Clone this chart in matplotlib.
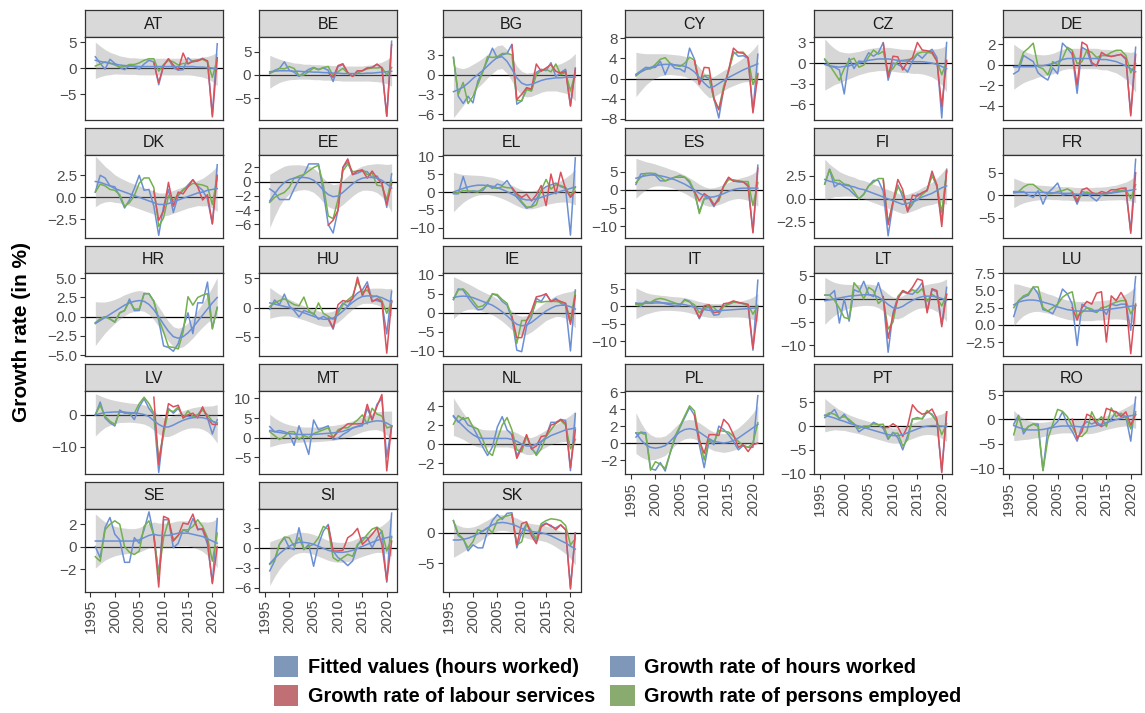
#!/usr/bin/env python
"""
Small multiples of employment growth rates per EU country, 1996-2021
"""

import matplotlib
matplotlib.use("Agg")
import matplotlib.pyplot as plt
from matplotlib.patches import Patch

plt.rcParams['font.family'] = ['Liberation Sans', 'DejaVu Sans']

# years of the series
YEARS = list(range(1996, 2022))
LS_YEARS = list(range(2008, 2022))

COUNTRIES = ["AT", "BE", "BG", "CY", "CZ", "DE",
             "DK", "EE", "EL", "ES", "FI", "FR",
             "HR", "HU", "IE", "IT", "LT", "LU",
             "LV", "MT", "NL", "PL", "PT", "RO",
             "SE", "SI", "SK"]

# growth rate of hours worked
HOURS = {
    "AT": [2.2, 0.9, -0.2, 1.7, 0.9, 0.1, -0.3, 0.5, 0.3, -0.2, 0.8, 1.5, 1.2, -3.2, 0.5, 1.8, 0.1, -0.4, -0.3, 2.0, 1.2, 1.4, 1.9, 1.3, -9.0, 4.7],
    "BE": [0.3, 1.0, 1.4, 2.8, 1.0, 0.6, -0.3, 0.5, 1.2, 1.6, 1.2, 1.5, 1.0, -1.4, 1.8, 2.2, 0.5, -0.3, 0.9, 0.9, 1.5, 1.6, 2.3, 1.5, -8.8, 7.2],
    "BG": [2.6, -3.3, -4.4, -3.3, -4.3, -1.0, 0.5, 2.2, 4.0, 2.5, 3.0, 3.2, 4.6, -4.5, -4.0, -2.0, -2.4, 0.3, 0.8, 0.6, 1.8, -0.3, 0.3, 0.8, -4.7, 1.0],
    "CY": [0.8, 1.5, 2.2, 2.1, 2.2, 3.4, 0.8, 3.0, 2.0, 1.9, 1.3, 6.0, 3.8, -1.0, 0.5, 0.0, -4.0, -7.8, -2.0, 1.5, 5.3, 4.4, 4.5, 4.0, -6.5, 4.8],
    "CZ": [0.5, -0.5, -0.6, -1.0, -4.5, 0.7, -0.8, 0.3, 0.2, 1.5, 1.0, 1.5, 3.0, -2.5, 0.0, -0.2, -0.6, -1.3, 0.3, 1.3, 0.7, 1.5, 2.0, 0.8, -8.0, 3.0],
    "DE": [-0.9, -0.6, 0.9, 0.6, 0.3, -0.8, -1.2, -1.5, -0.3, -0.9, 2.1, 1.6, 1.0, -2.8, 1.7, 1.4, 0.0, -0.1, 0.9, 0.9, 0.8, 0.9, 1.0, 0.5, -4.8, 1.7],
    "DK": [0.6, 2.5, 2.2, 1.3, 1.2, 0.1, -1.2, -0.3, 1.0, 2.5, 0.8, 0.9, -1.0, -4.3, -1.0, 0.9, -1.7, 0.2, 0.8, 1.4, 2.0, 1.3, 0.8, -0.2, -3.0, 3.7],
    "EE": [-1.0, -1.5, -2.5, -2.5, -2.5, -1.0, 0.3, 1.0, 2.5, 2.5, 2.5, -1.5, -6.0, -7.2, -4.0, 2.0, 2.8, 1.0, 1.2, 1.5, 1.4, 0.6, 0.8, -0.3, -3.6, 1.1],
    "EL": [-0.5, -0.5, 4.3, 0.0, 0.3, 0.2, 0.4, 2.0, 1.0, 2.2, 1.8, 3.2, 1.0, -1.5, -3.0, -4.5, -4.0, -2.0, 0.5, 1.5, 2.0, 2.5, 1.5, 1.0, -12.0, 9.5],
    "ES": [1.5, 4.4, 4.5, 4.5, 4.0, 2.5, 2.5, 3.0, 3.5, 3.5, 3.5, 2.0, -0.8, -6.0, -2.5, -2.3, -4.6, -2.0, 1.0, 3.3, 2.5, 2.2, 2.2, 1.5, -11.5, 6.8],
    "FI": [1.6, 3.2, 1.3, 1.7, 1.3, 1.0, 0.5, 0.0, 0.5, 1.4, 2.0, 2.0, 0.8, -4.0, -0.5, 1.5, 0.2, -1.3, -0.6, 0.5, 0.5, 1.0, 2.6, 1.3, -2.5, 3.2],
    "FR": [0.8, 0.8, 0.8, 0.0, -0.5, 1.0, -2.0, 0.5, 1.5, 2.7, 0.0, 0.3, 0.5, -2.0, 0.8, 0.5, -0.5, -1.3, 0.0, 0.3, 0.5, 0.8, 1.0, 1.0, -8.0, 8.0],
    "HR": [-0.8, -0.3, 0.0, -0.3, -0.7, 0.5, 0.8, 2.3, 0.8, 0.8, 3.0, 3.0, 2.0, -0.5, -3.8, -4.0, -4.5, -3.5, -1.5, 0.5, -2.2, 1.8, 1.8, 4.5, -1.6, 1.2],
    "HU": [-0.3, 1.3, 0.5, 2.3, 0.3, -0.5, -1.6, -0.5, -0.8, -1.0, -2.0, -1.5, -2.0, -3.7, -0.5, 0.8, 0.2, 1.6, 2.5, 3.0, 4.4, 1.2, 1.2, 0.9, -4.5, 2.8],
    "IE": [3.5, 6.3, 6.0, 4.0, 2.3, 0.8, 1.0, 2.5, 5.0, 4.5, 3.0, 2.0, -1.5, -9.8, -10.2, -3.5, -1.2, 3.8, 3.0, 5.0, 3.0, 3.8, 2.5, 2.0, -10.0, 6.0],
    "IT": [1.0, 0.0, 1.5, 1.0, 1.5, 1.2, 0.8, 0.5, 0.2, 0.2, 2.0, 1.5, -0.5, -3.5, -0.5, -0.3, -2.5, -2.3, 0.2, 0.6, 1.2, 1.1, 0.8, 0.2, -12.5, 7.5],
    "LT": [0.8, 0.8, 1.8, -5.2, 0.0, -4.8, 2.0, 1.5, 3.8, 1.0, 0.5, 3.5, 0.0, -11.5, -3.0, 0.5, 1.5, 1.2, 1.0, 2.0, 3.5, -2.5, 2.0, 1.5, -5.5, 2.5],
    "LU": [1.2, 3.5, 4.0, 4.3, 5.5, 4.5, 2.2, 2.0, 1.6, 3.0, 5.2, 4.5, 3.0, -3.0, 3.0, 2.5, 2.0, 1.8, 2.5, 1.5, 3.0, 2.8, 3.0, 3.0, -0.8, 7.0],
    "LV": [0.0, 4.0, -1.0, -2.5, -3.5, 1.5, 0.5, 0.5, -1.5, 2.5, 5.0, 2.0, 0.0, -18.0, -5.0, 2.0, 0.5, 2.0, -0.5, -0.5, -0.8, 0.0, 2.0, -1.0, -6.0, -1.5],
    "MT": [2.8, 1.5, 1.8, 1.5, 1.0, -2.0, 3.0, -0.5, -4.3, 4.5, 2.0, 2.5, 3.0, -0.5, -0.2, 0.8, 1.5, 2.5, 2.8, 3.0, 7.5, 4.5, 8.5, 10.0, -5.0, 3.0],
    "NL": [3.0, 2.3, 2.8, 2.0, 1.8, 0.8, -0.3, -1.2, -0.3, 1.8, 2.9, 1.5, 1.0, -1.2, -0.3, 0.9, -0.5, -1.0, 0.2, 0.8, 2.3, 2.3, 2.6, 2.5, -2.8, 3.2],
    "PL": [0.7, 1.3, 1.2, -3.0, -3.2, -2.3, -3.3, -1.2, 0.5, 1.8, 3.0, 4.2, 3.3, -0.2, -2.9, 0.3, -0.2, 2.0, 1.6, 1.0, 0.2, -0.8, -0.3, -0.5, -0.5, 5.6],
    "PT": [1.8, 2.5, 3.5, 1.5, 2.5, 1.0, 0.5, -1.2, -0.5, -0.3, 0.8, 0.3, -0.5, -2.8, -1.3, -2.5, -5.0, -2.0, 1.5, 1.8, 1.5, 3.0, 2.5, 1.0, -9.5, 3.0],
    "RO": [-1.0, 0.8, -3.0, -1.5, -1.0, -1.0, -10.5, -2.0, -1.5, -0.5, 1.5, -1.0, -2.5, -4.5, -1.5, -0.5, -1.0, -0.5, -1.5, -1.0, 0.0, 1.5, 0.8, 0.5, -4.5, 4.5],
    "SE": [0.0, -1.0, 1.7, 2.6, 1.1, 0.6, -1.4, -1.4, 0.8, 0.3, 1.5, 3.1, 1.0, -2.5, 2.4, 2.4, -0.1, 0.3, 1.5, 1.3, 2.5, 1.6, 1.5, 0.2, -3.2, 2.5],
    "SI": [-3.5, -2.0, 0.5, 1.5, 0.0, -0.3, 3.0, -0.3, 0.5, -2.8, 0.5, 2.5, 3.5, -0.5, -1.5, -2.0, -2.7, -2.0, 0.3, 1.5, 1.5, 0.0, 1.5, 2.5, -5.2, 5.2],
    "SK": [2.0, -0.5, -1.0, -3.0, -2.0, -2.5, -2.5, 0.3, 2.0, 3.0, 2.2, 3.2, 3.3, -2.5, 0.0, 1.5, 0.0, -1.5, 1.2, 1.6, 1.0, 0.8, 1.3, 0.5, -9.0, 0.0],
}

# growth rate of persons employed
PERSONS = {
    "AT": [0.4, 0.8, 1.2, 1.0, 0.6, 0.2, 0.3, 0.7, 0.7, 1.0, 1.5, 1.8, 1.8, -0.6, 0.7, 1.5, 1.2, 0.6, 0.9, 0.9, 1.4, 1.6, 1.7, 1.2, -1.8, 1.8],
    "BE": [0.4, 0.8, 1.4, 1.3, 1.8, 1.4, -0.1, 0.0, 0.7, 1.5, 1.1, 1.6, 1.8, -0.2, 0.7, 1.4, 0.4, -0.3, 0.4, 0.9, 1.3, 1.5, 1.5, 1.6, 0.0, 1.6],
    "BG": [2.6, -3.0, -1.2, -4.4, -3.3, -1.5, 0.3, 2.7, 2.6, 2.7, 3.2, 3.2, 3.0, -3.9, -4.0, -2.3, -2.5, 0.0, 0.6, 0.8, 0.4, 1.6, 0.0, 0.3, -2.5, 0.3],
    "CY": [0.5, 1.3, 1.8, 1.9, 2.8, 3.8, 4.1, 3.0, 2.6, 2.4, 3.0, 4.2, 3.6, -0.5, 0.6, 0.6, -4.2, -6.0, -1.5, 1.4, 4.9, 5.2, 5.2, 4.0, -1.2, 1.0],
    "CZ": [0.6, -0.3, -1.4, -2.5, -0.8, 0.4, 0.7, -0.6, -0.3, 0.9, 1.9, 1.3, 1.7, -1.3, -0.8, 0.3, 0.4, 0.5, 0.6, 1.4, 1.6, 1.6, 1.4, 0.3, -1.7, 0.2],
    "DE": [-0.2, -0.2, 1.2, 1.6, 2.1, -0.2, -0.4, -1.0, 0.3, 0.0, 0.6, 1.7, 1.4, 0.1, 0.3, 1.4, 1.2, 0.7, 0.9, 0.9, 1.2, 1.4, 1.4, 0.9, -0.8, 0.1],
    "DK": [0.6, 1.5, 1.3, 0.9, 0.8, 0.3, -1.0, -0.6, 0.2, 1.6, 2.2, 2.2, 1.1, -3.3, -2.3, 0.2, -0.3, 0.3, 0.9, 1.2, 1.6, 1.5, 1.4, 1.2, -0.8, 2.3],
    "EE": [-2.9, -2.2, -1.8, -1.5, -0.8, 0.5, 0.8, 1.0, 1.5, 2.0, 2.3, -0.5, -4.8, -5.2, -2.5, 1.5, 2.5, 1.4, 1.5, 1.7, 1.0, 1.2, -0.5, -0.6, -2.5, 0.2],
    "EL": [-0.3, -0.2, 0.4, 0.3, 0.2, 0.0, 1.0, 1.8, 1.2, 1.0, 1.5, 1.2, 1.1, -0.5, -2.7, -4.2, -4.2, -3.5, 0.5, 3.5, 0.8, 2.0, 1.8, 1.3, -1.2, 1.4],
    "ES": [2.0, 3.5, 4.5, 4.6, 4.5, 3.5, 2.5, 3.0, 3.5, 4.0, 3.5, 2.5, -0.3, -6.5, -2.3, -1.8, -4.0, -3.0, 1.0, 2.8, 2.8, 2.5, 2.3, 2.3, -4.3, 2.0],
    "FI": [1.6, 3.2, 2.0, 2.0, 1.6, 1.5, 0.8, 0.0, 0.5, 1.4, 1.8, 2.2, 2.2, -2.6, -0.4, 1.3, 0.6, -1.2, -0.4, -0.1, 0.5, 0.9, 2.5, 1.5, -1.5, 3.0],
    "FR": [0.6, 0.8, 1.8, 2.4, 2.4, 1.5, 0.7, 0.3, 0.4, 0.8, 1.0, 1.4, 0.8, -1.0, 0.1, 0.7, 0.3, 0.4, 0.3, 0.3, 0.6, 0.9, 1.0, 1.2, -0.8, 2.3],
    "HR": [-0.8, -0.3, 0.0, -0.3, -0.7, 0.5, 0.8, 2.0, 1.0, 1.0, 3.0, 3.0, 2.0, -0.3, -2.0, -3.9, -4.0, -4.2, -2.0, 2.6, 1.5, 2.5, 2.8, 3.0, -1.5, 1.2],
    "HU": [0.2, 0.8, 1.2, 1.5, 1.0, 0.5, 0.3, 1.8, -0.5, -1.2, 0.8, -1.0, -1.5, -2.0, -1.0, 0.5, 1.3, 2.0, 4.5, 2.6, 3.0, 1.8, 2.0, 1.2, -1.0, 1.0],
    "IE": [3.5, 6.0, 6.3, 5.0, 3.2, 1.5, 1.8, 3.0, 5.0, 4.8, 3.5, 2.5, -1.0, -8.0, -2.0, -2.0, -0.5, 3.0, 2.8, 3.0, 3.0, 3.0, 2.8, 2.5, -2.0, 5.5],
    "IT": [0.5, 0.5, 1.0, 1.2, 2.0, 2.3, 2.0, 1.5, 1.0, 0.5, 1.8, 1.3, 0.5, -1.8, -0.6, 0.2, -0.3, -1.8, 0.0, 0.7, 1.3, 1.2, 0.8, 0.5, -2.2, 0.3],
    "LT": [0.8, 0.8, -0.3, -2.0, -4.0, -4.3, 3.5, 2.2, 0.0, 2.5, 1.8, -1.0, 0.0, -6.5, -5.0, 0.5, 1.8, 1.3, 2.0, 1.3, 2.2, -0.5, 1.0, 0.3, -1.5, 1.0],
    "LU": [2.5, 3.5, 4.2, 4.5, 5.5, 5.5, 2.5, 2.0, 2.5, 3.0, 4.0, 4.5, 4.8, 1.2, 1.8, 2.5, 2.3, 1.8, 2.5, 2.6, 3.0, 3.3, 3.5, 3.5, 1.6, 2.8],
    "LV": [0.0, 3.0, -0.5, -2.0, -3.0, 1.0, 0.8, 0.3, 0.5, 3.5, 5.5, 3.5, 0.5, -14.0, -6.0, 1.5, 1.0, 2.5, -1.0, 1.2, -0.5, 0.0, 1.5, 0.0, -2.0, -2.5],
    "MT": [1.5, 0.5, -0.5, 0.3, 1.5, 1.5, -0.5, 0.5, 0.0, 1.0, 1.5, 2.0, 2.5, 0.0, 2.0, 2.5, 2.5, 3.5, 4.5, 5.8, 3.5, 7.5, 6.0, 5.5, 2.5, 2.8],
    "NL": [2.1, 3.0, 2.6, 2.8, 1.8, 1.6, 0.5, -0.8, -1.2, 0.5, 2.0, 2.8, 1.5, -0.6, -0.8, 0.8, -0.3, -1.2, -0.5, 0.8, 1.5, 2.2, 2.5, 2.0, -0.5, 0.5],
    "PL": [1.2, 1.2, 1.0, -3.2, -2.2, -2.5, -3.0, -1.2, 0.8, 2.0, 3.2, 4.4, 3.8, 0.5, -2.0, 0.5, 0.1, 1.5, 1.4, 1.3, 0.8, 0.2, -0.3, -0.5, 0.0, 2.4],
    "PT": [2.2, 2.8, 2.5, 1.7, 2.0, 1.4, 0.5, -0.5, 0.0, 0.0, 0.5, 0.3, 0.4, -2.5, -1.5, -1.5, -4.2, -2.8, 1.5, 1.5, 1.6, 3.3, 2.3, 1.0, -1.8, 0.5],
    "RO": [-3.2, 0.5, -2.5, -1.5, -1.0, -1.5, -10.5, -4.0, -1.0, 2.0, 1.6, 0.5, -1.5, -3.5, -3.5, -2.5, 1.5, -0.5, 0.5, -1.5, 2.3, 0.5, 1.2, 0.5, -2.0, 1.5],
    "SE": [-0.9, -1.3, 1.5, 2.0, 2.3, 2.0, 0.0, -0.5, -0.7, -0.4, 1.8, 2.3, 1.0, -2.5, 0.8, 2.3, 0.6, 1.0, 1.5, 1.5, 1.8, 2.4, 1.8, 0.8, -1.3, 1.2],
    "SI": [-2.5, -1.8, 0.5, 1.6, 1.5, 0.2, 1.5, -0.2, 0.2, 0.5, 1.5, 3.2, 2.8, -1.5, -2.0, -1.5, -1.0, -1.3, 0.5, 1.0, 2.0, 2.8, 3.1, 2.5, -0.5, 1.5],
    "SK": [2.0, -0.2, -1.0, -2.5, -1.5, 0.5, 0.2, 0.8, 0.0, 2.0, 2.5, 2.8, 3.0, -2.0, -1.5, 1.5, 0.3, -1.0, 1.5, 2.0, 2.3, 2.2, 2.0, 1.2, -2.0, -1.0],
}

# growth rate of labour services (only from 2008, missing for HR)
LABOUR = {
    "AT": [1.0, -2.8, 0.5, 1.8, 0.6, -0.3, 2.9, 0.8, 1.3, 1.4, 1.8, 1.4, -9.4, 2.0],
    "BE": [0.5, -0.5, 2.0, 2.4, 0.5, -0.3, 0.9, 0.9, 1.5, 1.6, 2.3, 1.5, -8.8, 6.5],
    "BG": [4.5, -3.8, -3.0, -2.0, -2.2, 1.6, 0.5, 1.0, 1.5, 0.5, 0.2, 0.5, -4.8, 0.8],
    "CY": [3.5, -1.2, 2.2, 2.1, -3.9, -6.2, -2.2, 1.6, 6.0, 5.1, 5.0, 4.1, -6.8, 0.8],
    "CZ": [2.9, -2.0, 1.0, 0.9, -1.0, 0.2, 0.8, 3.0, 1.9, 1.8, 1.6, 0.3, -6.3, 0.4],
    "DE": [1.2, -2.0, 2.2, 1.9, 0.2, -0.1, 1.2, 0.9, 0.8, 0.9, 1.0, 0.6, -5.0, 1.0],
    "DK": [0.7, -2.6, -1.5, 1.7, -1.0, 0.6, 0.4, 1.2, 2.0, 1.2, -0.3, 0.3, -3.0, 2.5],
    "EE": [-6.1, -5.4, -4.0, 2.0, 3.2, 1.0, 1.5, 1.6, 0.5, 1.5, 0.5, -0.2, -3.2, -0.3],
    "EL": [1.2, -0.5, -1.5, -0.6, -2.5, -0.8, 1.8, -3.8, 5.0, -0.5, 5.5, 0.8, -1.5, 0.2],
    "ES": [-0.3, -3.0, -1.0, -2.0, -4.2, -2.5, 1.2, 3.5, 2.4, 2.4, 2.2, 1.0, -11.8, 6.0],
    "FI": [2.0, -2.8, -0.3, 2.1, 1.0, -1.4, 0.4, 0.3, 0.7, 0.9, 3.0, 1.5, -3.0, 3.0],
    "FR": [0.5, -1.5, 1.2, 1.6, 0.6, 0.2, 0.8, 0.5, 1.2, 1.2, 1.5, 1.6, -8.5, 5.0],
    "HR": None,
    "HU": [-1.8, -3.5, 0.5, 1.2, 1.0, 1.5, 5.2, 2.0, 3.8, 1.0, 1.5, 1.0, -7.8, 1.2],
    "IE": [-1.0, -6.5, -6.5, -2.0, 0.5, 4.2, 4.5, 5.0, 3.0, 3.5, 3.0, 2.5, -3.0, 4.5],
    "IT": [-0.3, -3.2, 0.2, 0.5, -1.8, -1.5, 0.8, 1.0, 1.6, 1.1, 0.9, 0.6, -12.0, -0.5],
    "LT": [0.5, -8.5, -3.5, 0.0, 1.8, 1.2, 2.5, 4.3, 4.0, -3.0, 2.2, 1.8, -6.0, 1.0],
    "LU": [2.5, 0.7, 2.5, 3.4, 3.0, 4.6, 4.8, -2.5, 4.2, 3.5, 4.7, 3.5, -4.2, 3.0],
    "LV": [5.5, -15.5, -4.5, 3.5, 2.5, 3.0, -1.0, 0.0, 0.5, -1.0, 2.5, -1.0, -3.0, -3.0],
    "MT": [0.5, 0.0, 1.5, 2.5, 3.5, 3.5, 3.5, 3.6, 8.5, 4.5, 8.0, 11.0, -8.5, 3.0],
    "NL": [1.0, -1.5, -0.4, 1.0, -0.5, -0.2, 0.8, 0.9, 2.0, 2.2, 2.6, 2.2, -2.5, 1.5],
    "PL": [3.3, 0.3, -1.2, 1.0, 1.0, 0.9, 2.8, 2.2, 1.0, -0.5, -0.2, -1.0, -0.2, 0.0],
    "PT": [-0.3, -0.3, 0.5, -0.2, -2.2, 0.0, 4.5, 3.2, 2.5, 2.8, 3.6, 1.5, -9.8, 3.0],
    "RO": [0.0, -4.0, -2.5, 1.0, 0.5, -1.0, -1.5, 2.2, 1.8, 1.5, 0.5, 1.5, -1.2, 1.0],
    "SE": [1.0, -3.6, 2.7, 2.5, 0.5, 1.0, 2.1, 2.0, 2.9, 1.5, 1.6, 0.5, -3.3, 0.0],
    "SI": [3.3, -0.5, -0.5, -0.4, 1.5, 2.0, 2.9, 0.5, 1.2, 2.0, 3.0, 0.5, -5.0, 1.0],
    "SK": [3.0, -2.0, 1.5, 1.8, -0.5, -1.8, 1.0, 1.5, 1.2, 0.5, 1.3, 0.5, -9.3, 0.0],
}

# fitted values (hours worked)
FITTED = {
    "AT": [1.5, 1.3, 1.1, 0.9, 0.8, 0.6, 0.5, 0.4, 0.4, 0.3, 0.3, 0.3, 0.3, 0.3, 0.3, 0.3, 0.3, 0.3, 0.3, 0.3, 0.3, 0.2, 0.2, 0.1, 0.0, -0.2],
    "BE": [0.7, 0.8, 0.9, 0.9, 0.9, 0.8, 0.8, 0.7, 0.7, 0.6, 0.6, 0.5, 0.5, 0.4, 0.4, 0.3, 0.3, 0.3, 0.3, 0.3, 0.4, 0.4, 0.5, 0.6, 0.7, 0.8],
    "BG": [-2.6, -2.3, -1.9, -1.3, -0.6, 0.0, 0.6, 1.3, 2.0, 2.6, 2.7, 2.0, 0.8, -0.5, -1.3, -1.6, -1.5, -1.2, -0.9, -0.7, -0.6, -0.5, -0.5, -0.4, -0.4, -0.4],
    "CY": [0.8, 1.3, 1.8, 2.2, 2.5, 2.7, 2.8, 2.8, 2.7, 2.6, 2.4, 2.0, 1.3, 0.2, -0.9, -1.8, -1.6, -1.0, -0.4, 0.2, 0.7, 1.2, 1.7, 2.1, 2.5, 2.9],
    "CZ": [-0.2, -0.4, -0.5, -0.6, -0.5, -0.4, -0.2, 0.0, 0.2, 0.4, 0.5, 0.6, 0.6, 0.6, 0.5, 0.4, 0.3, 0.3, 0.2, 0.2, 0.2, 0.1, 0.0, -0.2, -0.5, -0.8],
    "DE": [-0.2, -0.2, -0.2, -0.2, -0.2, -0.1, -0.1, 0.0, 0.1, 0.3, 0.5, 0.6, 0.6, 0.6, 0.6, 0.6, 0.6, 0.6, 0.5, 0.5, 0.4, 0.3, 0.1, -0.1, -0.4, -0.7],
    "DK": [1.8, 1.7, 1.5, 1.3, 1.0, 0.8, 0.6, 0.4, 0.2, 0.0, -0.2, -0.4, -0.6, -0.8, -0.8, -0.7, -0.5, -0.3, -0.1, 0.1, 0.3, 0.5, 0.6, 0.8, 0.9, 1.0],
    "EE": [-2.7, -1.7, -0.8, -0.1, 0.3, 0.5, 0.6, 0.6, 0.5, 0.2, -0.4, -1.2, -1.8, -2.1, -2.0, -1.5, -0.9, -0.3, 0.2, 0.5, 0.6, 0.6, 0.5, 0.2, -0.3, -0.9],
    "EL": [0.0, 0.5, 1.0, 1.4, 1.7, 1.9, 1.9, 1.8, 1.6, 1.2, 0.7, 0.1, -0.6, -1.3, -1.9, -2.2, -2.2, -1.9, -1.5, -1.0, -0.6, -0.2, 0.2, 0.6, 1.0, 1.4],
    "ES": [3.2, 3.6, 3.9, 4.1, 4.1, 3.9, 3.6, 3.2, 2.8, 2.2, 1.6, 0.8, 0.0, -0.9, -1.6, -2.0, -1.9, -1.5, -1.0, -0.4, 0.1, 0.4, 0.5, 0.5, 0.5, 0.5],
    "FI": [2.1, 1.9, 1.8, 1.6, 1.5, 1.4, 1.3, 1.1, 1.0, 0.8, 0.6, 0.4, 0.2, 0.0, -0.2, -0.4, -0.6, -0.5, -0.3, -0.1, 0.2, 0.4, 0.6, 0.9, 1.2, 1.4],
    "FR": [0.5, 0.6, 0.6, 0.6, 0.6, 0.6, 0.6, 0.6, 0.5, 0.5, 0.4, 0.4, 0.3, 0.2, 0.2, 0.2, 0.2, 0.3, 0.3, 0.4, 0.5, 0.6, 0.8, 0.9, 1.1, 1.3],
    "HR": [-0.9, -0.5, -0.1, 0.3, 0.7, 1.1, 1.5, 1.8, 2.0, 2.1, 2.0, 1.6, 0.9, 0.0, -1.0, -1.9, -2.6, -2.8, -2.6, -2.1, -1.4, -0.6, 0.2, 1.0, 1.8, 2.5],
    "HU": [0.8, 0.6, 0.4, 0.2, 0.0, -0.3, -0.6, -0.9, -1.2, -1.5, -1.8, -2.0, -2.0, -1.8, -1.3, -0.6, 0.2, 0.9, 1.5, 1.9, 2.0, 2.0, 1.9, 1.7, 1.3, 0.9],
    "IE": [4.0, 4.3, 4.4, 4.3, 4.0, 3.5, 3.0, 2.5, 2.0, 1.2, 0.3, -0.8, -2.0, -3.0, -3.4, -3.2, -2.5, -1.5, -0.5, 0.5, 1.2, 1.8, 2.0, 2.0, 1.6, 1.0],
    "IT": [0.9, 0.9, 0.9, 0.9, 1.0, 1.0, 1.0, 0.9, 0.8, 0.7, 0.5, 0.2, -0.2, -0.6, -0.9, -1.1, -1.2, -1.2, -1.1, -1.0, -0.9, -0.8, -0.7, -0.6, -0.5, -0.3],
    "LT": [-0.4, -0.2, 0.0, 0.2, 0.4, 0.6, 0.7, 0.8, 0.9, 0.9, 0.8, 0.4, -0.3, -1.2, -1.9, -2.0, -1.6, -0.9, -0.3, 0.2, 0.5, 0.6, 0.6, 0.4, 0.1, -0.3],
    "LU": [2.9, 3.3, 3.5, 3.6, 3.6, 3.5, 3.3, 3.1, 2.9, 2.6, 2.4, 2.2, 2.1, 2.0, 2.0, 2.0, 2.0, 2.1, 2.1, 2.2, 2.3, 2.4, 2.5, 2.6, 2.7, 2.8],
    "LV": [0.0, 0.4, 0.7, 0.8, 0.9, 0.9, 0.8, 0.7, 0.6, 0.4, 0.1, -0.6, -1.8, -3.0, -3.8, -3.8, -3.2, -2.4, -1.7, -1.2, -0.9, -0.8, -0.9, -1.3, -2.0, -2.8],
    "MT": [1.8, 1.5, 1.3, 1.1, 1.0, 0.9, 0.8, 0.8, 0.8, 0.8, 0.9, 1.0, 1.1, 1.2, 1.4, 1.6, 2.0, 2.4, 2.9, 3.4, 3.8, 4.1, 4.3, 4.2, 3.7, 3.0],
    "NL": [2.9, 2.4, 1.9, 1.4, 1.0, 0.7, 0.6, 0.6, 0.6, 0.6, 0.6, 0.6, 0.5, 0.3, 0.0, -0.2, -0.2, 0.0, 0.3, 0.6, 0.9, 1.1, 1.3, 1.5, 1.6, 1.7],
    "PL": [1.2, 0.4, -0.2, -0.5, -0.6, -0.5, -0.3, 0.2, 0.8, 1.3, 1.6, 1.7, 1.6, 1.3, 0.9, 0.5, 0.2, 0.1, 0.0, 0.1, 0.3, 0.6, 1.0, 1.4, 1.8, 2.2],
    "PT": [2.3, 2.0, 1.7, 1.3, 1.0, 0.6, 0.3, 0.0, -0.3, -0.6, -0.9, -1.2, -1.5, -1.8, -2.0, -2.0, -1.8, -1.4, -1.0, -0.6, -0.2, 0.0, 0.1, 0.1, 0.0, -0.1],
    "RO": [-1.3, -1.7, -2.0, -2.2, -2.2, -2.2, -2.1, -1.9, -1.7, -1.5, -1.4, -1.4, -1.4, -1.5, -1.6, -1.6, -1.5, -1.3, -1.0, -0.7, -0.4, -0.1, 0.2, 0.5, 0.7, 0.9],
    "SE": [0.5, 0.5, 0.5, 0.5, 0.5, 0.5, 0.5, 0.5, 0.5, 0.6, 0.8, 1.0, 1.1, 1.0, 1.0, 1.0, 1.1, 1.2, 1.2, 1.2, 1.1, 1.0, 0.9, 0.7, 0.5, 0.3],
    "SI": [-2.4, -1.6, -0.9, -0.3, 0.2, 0.6, 0.8, 0.8, 0.7, 0.5, 0.2, -0.1, -0.4, -0.6, -0.7, -0.7, -0.6, -0.4, -0.1, 0.2, 0.5, 0.8, 1.1, 1.3, 1.5, 1.7],
    "SK": [-1.2, -1.2, -1.1, -0.9, -0.6, -0.2, 0.3, 0.8, 1.3, 1.6, 1.7, 1.6, 1.4, 1.1, 0.7, 0.4, 0.2, 0.1, 0.0, -0.2, -0.5, -0.9, -1.3, -1.7, -2.2, -2.7],
}

# half width of the grey band: a common profile over the years times a
# per-country width read in the middle of the period
BAND_SHAPE = [2.2, 1.85, 1.55, 1.35, 1.2, 1.1, 1.05, 1.0, 1.0, 1.0, 1.0, 1.0, 1.0,
              1.0, 1.0, 1.0, 1.0, 1.0, 1.0, 1.0, 1.05, 1.1, 1.2, 1.35, 1.6, 2.0]
BAND_WIDTH = {"AT": 1.6, "BE": 1.6, "BG": 1.8, "CY": 2.0, "CZ": 1.7, "DE": 1.0,
              "DK": 1.3, "EE": 1.7, "EL": 2.5, "ES": 2.5, "FI": 1.0, "FR": 1.5,
              "HR": 1.3, "HU": 1.2, "IE": 2.5, "IT": 2.0, "LT": 2.3, "LU": 1.4,
              "LV": 3.0, "MT": 1.9, "NL": 0.9, "PL": 1.1, "PT": 1.6, "RO": 1.4,
              "SE": 1.1, "SI": 1.5, "SK": 1.3}

# free y scales of the panels
YLIMS = {"AT": (-10, 6), "BE": (-9.6, 8.1), "BG": (-6.9, 5.7), "CY": (-8.2, 8.2),
         "CZ": (-8.3, 3.8), "DE": (-5.4, 2.7), "DK": (-4.6, 4.8), "EE": (-7.9, 3.75),
         "EL": (-12.8, 10.3), "ES": (-13.2, 9.6), "FI": (-4.24, 4.75), "FR": (-9.55, 8.95),
         "HR": (-5.05, 5.75), "HU": (-8.2, 6.0), "IE": (-11.2, 10.6), "IT": (-14.0, 9.7),
         "LT": (-12.2, 5.7), "LU": (-4.46, 7.6), "LV": (-18.5, 7.45), "MT": (-9.3, 11.9),
         "NL": (-3.15, 5.6), "PL": (-3.65, 6.15), "PT": (-10.1, 7.4), "RO": (-11.2, 5.75),
         "SE": (-4.0, 3.4), "SI": (-6.6, 5.9), "SK": (-9.7, 4.0)}
YTICKS = {"AT": [-5, 0, 5], "BE": [-5, 0, 5], "BG": [-6, -3, 0, 3], "CY": [-8, -4, 0, 4, 8],
          "CZ": [-6, -3, 0, 3], "DE": [-4, -2, 0, 2], "DK": [-2.5, 0, 2.5],
          "EE": [-6, -4, -2, 0, 2], "EL": [-10, -5, 0, 5, 10], "ES": [-10, -5, 0, 5],
          "FI": [-2.5, 0, 2.5], "FR": [-5, 0, 5], "HR": [-5, -2.5, 0, 2.5, 5],
          "HU": [-5, 0, 5], "IE": [-10, -5, 0, 5, 10], "IT": [-10, -5, 0, 5],
          "LT": [-10, -5, 0, 5], "LU": [-2.5, 0, 2.5, 5, 7.5], "LV": [-10, 0],
          "MT": [-5, 0, 5, 10], "NL": [-2, 0, 2, 4], "PL": [-2, 0, 2, 4, 6],
          "PT": [-10, -5, 0, 5], "RO": [-10, -5, 0, 5], "SE": [-2, 0, 2],
          "SI": [-6, -3, 0, 3], "SK": [-5, 0]}
XTICKS = [1995, 2000, 2005, 2010, 2015, 2020]

# colours
C_HOURS = "#6b8fd4"
C_LABOUR = "#d9515b"
C_PERSONS = "#74b04e"
C_FITTED = "#6b8fd4"

# check that every series has the right length
for c in COUNTRIES:
    for name, d, n in [("hours", HOURS, 26), ("persons", PERSONS, 26),
                       ("fitted", FITTED, 26), ("labour", LABOUR, 14)]:
        if d[c] is not None and len(d[c]) != n:
            raise ValueError(f"{c} {name} has {len(d[c])} values")

# layout in pixels
W, H = 1145, 713
COL_LEFT = [84.6, 259, 442.7, 625.2, 814, 1003]
ROW_TOP = [10, 128, 245.5, 364, 481.5]
PANEL_W = 138
STRIP_H = 27
PLOT_H = 83


def fig_rect(left, top, width, height):
    return [left / W, 1 - (top + height) / H, width / W, height / H]


fig = plt.figure(figsize=(W / 100, H / 100), dpi=100)

for i, c in enumerate(COUNTRIES):
    row, col = divmod(i, 6)
    left = COL_LEFT[col]
    top = ROW_TOP[row]

    # strip with the country code
    sax = fig.add_axes(fig_rect(left, top, PANEL_W, STRIP_H))
    sax.set_facecolor("#d9d9d9")
    sax.set_xticks([])
    sax.set_yticks([])
    for s in sax.spines.values():
        s.set_color("#333333")
        s.set_linewidth(0.9)
    sax.text(0.5, 0.48, c, ha="center", va="center", fontsize=11.5,
             color="#1a1a1a", transform=sax.transAxes)

    ax = fig.add_axes(fig_rect(left, top + STRIP_H, PANEL_W, PLOT_H))
    ax.axhline(0, color="black", linewidth=0.9, zorder=1)
    lower = [f - BAND_WIDTH[c] * s for f, s in zip(FITTED[c], BAND_SHAPE)]
    upper = [f + BAND_WIDTH[c] * s for f, s in zip(FITTED[c], BAND_SHAPE)]
    ax.fill_between(YEARS, lower, upper, color="#999999", alpha=0.4,
                    linewidth=0, zorder=2)
    ax.plot(YEARS, HOURS[c], color=C_HOURS, linewidth=1.1, zorder=3)
    ax.plot(YEARS, PERSONS[c], color=C_PERSONS, linewidth=1.1, zorder=4)
    if LABOUR[c] is not None:
        ax.plot(LS_YEARS, LABOUR[c], color=C_LABOUR, linewidth=1.1, zorder=5)
    ax.plot(YEARS, FITTED[c], color=C_FITTED, linewidth=1.1, zorder=6)

    ax.set_xlim(1993.8, 2022.1)
    ax.set_ylim(*YLIMS[c])
    ax.set_yticks(YTICKS[c])
    ax.set_xticks(XTICKS)
    ax.tick_params(axis="both", length=3.5, width=0.8, color="#333333",
                   labelsize=11, labelcolor="#4d4d4d", pad=2)
    # only the lowest panel of each column gets an x axis
    bottom_panel = (row == 4) or (row == 3 and col >= 3)
    if bottom_panel:
        ax.tick_params(axis="x", labelrotation=90)
    else:
        ax.tick_params(axis="x", bottom=False, labelbottom=False)
    for s in ax.spines.values():
        s.set_color("#333333")
        s.set_linewidth(0.9)

fig.text(22 / W, 1 - 332 / H, "Growth rate (in %)", rotation=90,
         ha="center", va="center", fontsize=15, fontweight="bold")

# legend, two rows of two entries
handles = [
    Patch(facecolor="#7f97b8", label="Fitted values (hours worked)"),
    Patch(facecolor="#c07075", label="Growth rate of labour services"),
    Patch(facecolor="#7f97b8", label="Growth rate of hours worked"),
    Patch(facecolor="#8aab6f", label="Growth rate of persons employed"),
]
fig.legend(handles=handles, ncol=2, loc="upper left",
           bbox_to_anchor=(274 / W, 1 - 656 / H), frameon=False,
           prop={"weight": "bold", "size": 14.3}, handlelength=1.22,
           handleheight=1.22, handletextpad=0.5, columnspacing=0.75,
           labelspacing=0.42, borderpad=0, borderaxespad=0)

fig.savefig("out.png", dpi=100)
